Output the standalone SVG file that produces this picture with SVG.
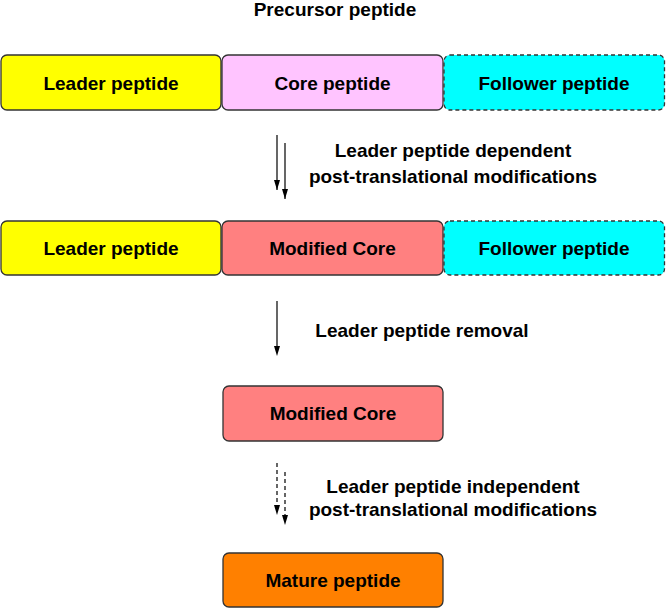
<svg xmlns="http://www.w3.org/2000/svg" width="666" height="608" viewBox="0 0 666 608">
<style>
text{font-family:"Liberation Sans",Arial,sans-serif;font-weight:bold;font-size:19px;fill:#000;text-anchor:middle}
.box{stroke:#333;stroke-width:1.3}
.dash{stroke-dasharray:4 3}
.ln{stroke:#000;stroke-width:1.2;fill:none}
.dl{stroke:#000;stroke-width:1.2;fill:none;stroke-dasharray:4 3}
</style>
<defs>
<marker id="ah" markerWidth="8" markerHeight="12" refX="3.5" refY="11" orient="auto-start-reverse" markerUnits="userSpaceOnUse" viewBox="0 0 7 12">
<path d="M0,0 L3.5,1.5 L7,0 L3.5,11 Z" fill="#000" transform="rotate(0)"/>
</marker>
</defs>
<rect width="666" height="608" fill="#fff"/>
<g id="title"><text x="335" y="16">Precursor peptide</text></g>

<g id="leader1"><rect class="box" x="1" y="55" width="220" height="55" rx="6" fill="#ffff00"/><text x="111" y="89.5">Leader peptide</text></g>
<g id="core1"><rect class="box" x="222" y="55" width="221" height="55" rx="6" fill="#ffc4ff"/><text x="332.5" y="89.5">Core peptide</text></g>
<g id="follower1"><rect class="box dash" x="444" y="55" width="220.5" height="55" rx="6" fill="#00ffff"/><text x="554" y="89.5">Follower peptide</text></g>

<g id="leader2"><rect class="box" x="1" y="221" width="220" height="54" rx="6" fill="#ffff00"/><text x="111" y="255">Leader peptide</text></g>
<g id="modcore2"><rect class="box" x="222" y="221" width="221" height="54" rx="6" fill="#ff8080"/><text x="332.5" y="255">Modified Core</text></g>
<g id="follower2"><rect class="box dash" x="444" y="221" width="220.5" height="54" rx="6" fill="#00ffff"/><text x="554" y="255">Follower peptide</text></g>

<g id="modcore3"><rect class="box" x="223" y="386" width="220" height="55" rx="6" fill="#ff8080"/><text x="333" y="420">Modified Core</text></g>

<g id="mature"><rect class="box" x="223" y="553" width="220" height="54" rx="6" fill="#ff8000"/><text x="333" y="587">Mature peptide</text></g>

<g id="connectors">
<path d="M277,135 V190" class="ln"/>
<path d="M277,180 L274,180 L277,190 L280,180 Z" fill="#000"/>
<path d="M285,143 V199" class="ln"/>
<path d="M285,189 L282,189 L285,199 L288,189 Z" fill="#000"/>

<path d="M277,301 V346" class="ln"/>
<path d="M277,346 L274,346 L277,356 L280,346 Z" fill="#000"/>

<path d="M277,463 V507" class="dl"/>
<path d="M277,505 L274,505 L277,515 L280,505 Z" fill="#000"/>
<path d="M285,472 V517" class="dl"/>
<path d="M285,515 L282,515 L285,525 L288,515 Z" fill="#000"/>
</g>

<g id="labels">
<text x="453" y="157">Leader peptide dependent</text>
<text x="453" y="183">post-translational modifications</text>
<text x="422" y="337">Leader peptide removal</text>
<text x="453" y="493">Leader peptide independent</text>
<text x="453" y="516">post-translational modifications</text>
</g>
</svg>
